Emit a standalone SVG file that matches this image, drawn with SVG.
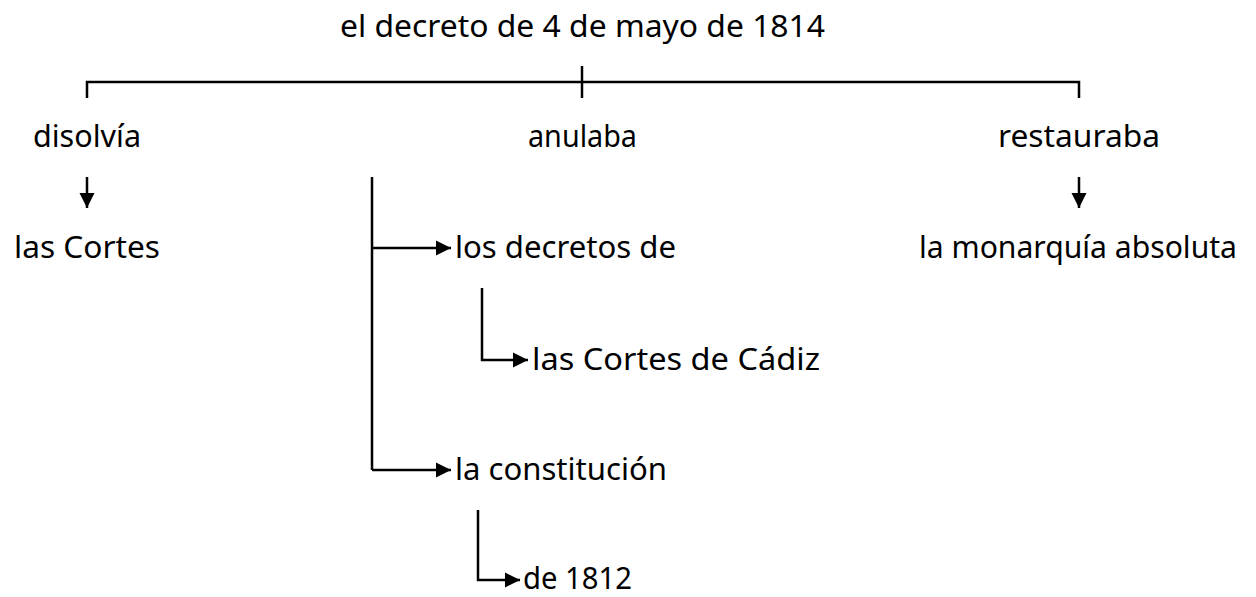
<svg xmlns="http://www.w3.org/2000/svg" width="1256" height="597" viewBox="0 0 1256 597">
  <style>
    .t { font-family: "Noto Sans", "DejaVu Sans", sans-serif; font-size: 31px; fill: #000; }
    .c { stroke: #000; stroke-width: 2.5; fill: none; }
  </style>
  <defs>
    <marker id="ah" markerUnits="userSpaceOnUse" markerWidth="16" markerHeight="16" viewBox="0 0 16 16" refX="15" refY="8" orient="auto">
      <path d="M0,0.5 L15,8 L0,15.5 Z" fill="#000"/>
    </marker>
  </defs>
  <rect width="1256" height="597" fill="#fff"/>
  <g id="connectors">
    <path class="c" d="M87,98 V82 H1079 V98"/>
    <path class="c" d="M582,66 V98"/>
    <path class="c" d="M87,177 V208" marker-end="url(#ah)"/>
    <path class="c" d="M1079,177 V208" marker-end="url(#ah)"/>
    <path class="c" d="M372,177 V470"/>
    <path class="c" d="M372,248 H451" marker-end="url(#ah)"/>
    <path class="c" d="M372,470 H451" marker-end="url(#ah)"/>
    <path class="c" d="M482,288 V360 H528" marker-end="url(#ah)"/>
    <path class="c" d="M478,510 V580 H520" marker-end="url(#ah)"/>
  </g>
  <g id="title"><text class="t" x="340" y="37" textLength="485" lengthAdjust="spacingAndGlyphs">el decreto de 4 de mayo de 1814</text></g>
  <g id="disolvia"><text class="t" x="33" y="147" textLength="108" lengthAdjust="spacingAndGlyphs">disolvía</text></g>
  <g id="anulaba"><text class="t" x="528" y="147" textLength="109" lengthAdjust="spacingAndGlyphs">anulaba</text></g>
  <g id="restauraba"><text class="t" x="998" y="147" textLength="162" lengthAdjust="spacingAndGlyphs">restauraba</text></g>
  <g id="las-cortes"><text class="t" x="14" y="258" textLength="146" lengthAdjust="spacingAndGlyphs">las Cortes</text></g>
  <g id="monarquia"><text class="t" x="919" y="258" textLength="318" lengthAdjust="spacingAndGlyphs">la monarquía absoluta</text></g>
  <g id="decretos"><text class="t" x="455" y="258" textLength="221" lengthAdjust="spacingAndGlyphs">los decretos de</text></g>
  <g id="cadiz"><text class="t" x="532" y="370" textLength="288" lengthAdjust="spacingAndGlyphs">las Cortes de Cádiz</text></g>
  <g id="constitucion"><text class="t" x="455" y="480" textLength="212" lengthAdjust="spacingAndGlyphs">la constitución</text></g>
  <g id="de1812"><text class="t" x="523" y="589" textLength="109" lengthAdjust="spacingAndGlyphs">de 1812</text></g>
</svg>
